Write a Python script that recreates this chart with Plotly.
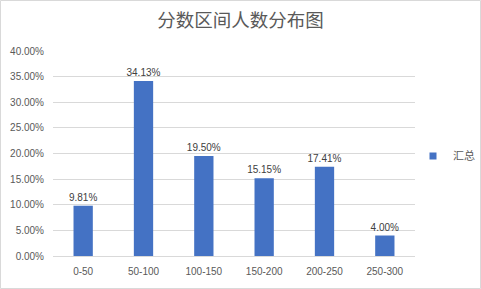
import plotly.graph_objects as go

categories = ["0-50", "50-100", "100-150", "150-200", "200-250", "250-300"]
values = [0.0981, 0.3413, 0.1950, 0.1515, 0.1741, 0.0400]
series_name = "汇总"
title = "分数区间人数分布图"

W, H = 481, 289
L, R, T, B = 53, 66, 51, 33
pw, ph = W - L - R, H - T - B
COLOR = "#4472C4"

fig = go.Figure()
fig.add_trace(go.Bar(
    x=categories, y=values, name=series_name, showlegend=False,
    marker=dict(color=COLOR, line=dict(width=0)),
    text=[f"{v*100:.2f}%" for v in values],
    textposition="outside", constraintext="none",
    textfont=dict(size=10, color="#404040", family="Liberation Sans, Noto Sans CJK SC"),
    cliponaxis=False,
))
fig.add_trace(go.Scatter(
    x=[None], y=[None], name=series_name, mode="markers",
    marker=dict(symbol="square", size=7, color=COLOR),
))

fig.update_layout(
    width=W, height=H,
    margin=dict(l=L, r=R, t=T, b=B, autoexpand=False),
    paper_bgcolor="white", plot_bgcolor="white",
    bargap=0.68,
    showlegend=True,
    title=dict(text=title, x=0.5, xref="container", xanchor="center",
               y=1 - 21 / H, yanchor="middle", yref="container",
               font=dict(size=18.5, color="#595959", family="Noto Sans CJK SC")),
    legend=dict(x=(413 - L) / pw, y=(256 - 156) / ph, xanchor="left", yanchor="middle",
                font=dict(size=11, color="#595959", family="Noto Sans CJK SC"),
                itemwidth=30, bgcolor="rgba(0,0,0,0)"),
    font=dict(family="Liberation Sans, Noto Sans CJK SC", color="#595959", size=10),
    xaxis=dict(showgrid=False, showline=True, linecolor="#d9d9d9", linewidth=1,
               ticks="", tickfont=dict(size=10, color="#595959"), ticklabelstandoff=6),
    yaxis=dict(range=[0, 0.40], dtick=0.05, tickformat=".2%", showgrid=True,
               gridcolor="#d9d9d9", gridwidth=1, zeroline=False, showline=False,
               ticks="", tickfont=dict(size=10, color="#595959"), ticklabelstandoff=8),
    shapes=[dict(type="rect", xref="paper", yref="paper",
                 x0=(0.5 - L) / pw, x1=(W - 0.5 - L) / pw,
                 y0=-(B - 0.5) / ph, y1=1 + (T - 0.5) / ph,
                 line=dict(color="#d9d9d9", width=1), fillcolor="rgba(0,0,0,0)", layer="below")],
)

fig.write_html("out.html")
